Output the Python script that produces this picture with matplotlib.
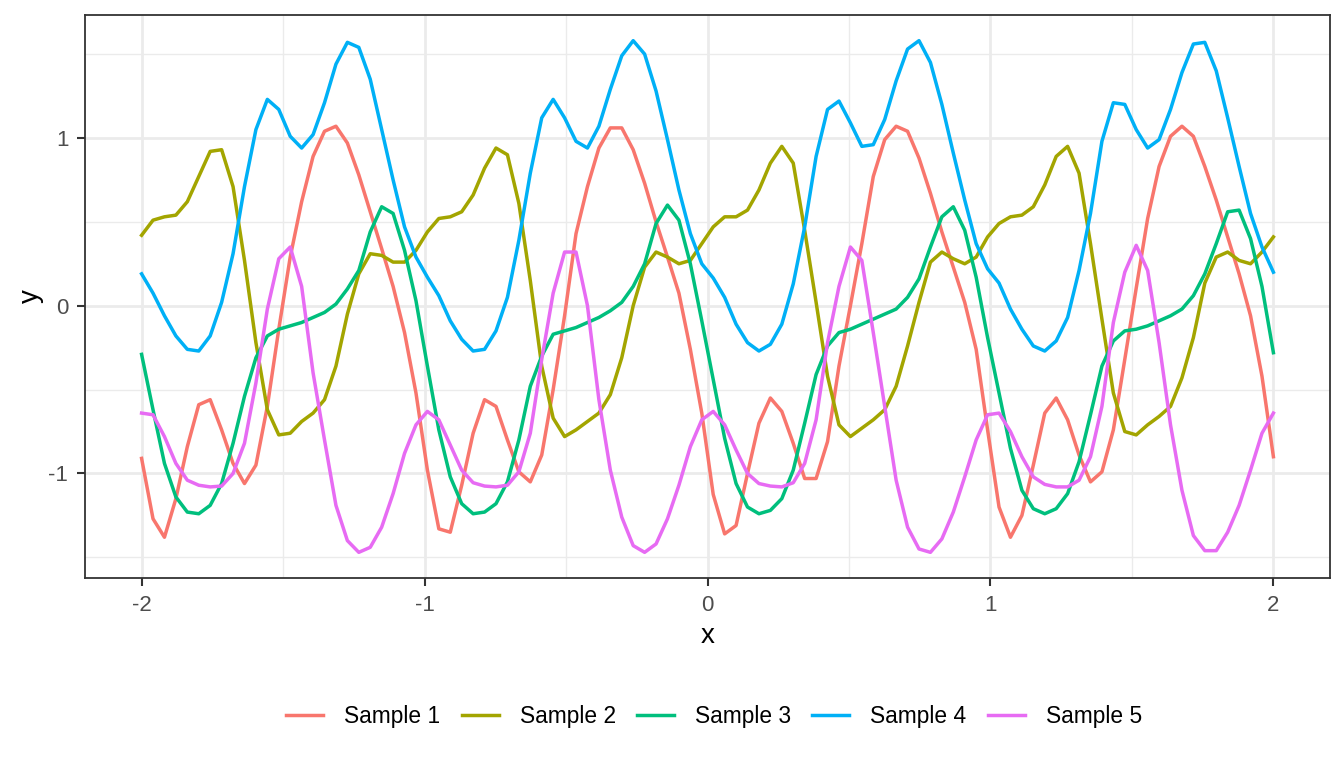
import numpy as np
import matplotlib
matplotlib.use("Agg")
import matplotlib.pyplot as plt

plt.rcParams["font.family"] = ["Liberation Sans", "DejaVu Sans"]
plt.rcParams["axes.unicode_minus"] = False

# 100 punkte zwischen -2 und 2
x = np.linspace(-2, 2, 100)

sample_1 = [
    -0.91, -1.27, -1.38, -1.15, -0.84, -0.59, -0.56, -0.74, -0.94, -1.06, -0.95, -0.60, -0.14, 0.29, 0.62, 0.89, 1.04, 1.07, 0.97, 0.78, 0.56, 0.34, 0.115, -0.16, -0.52,
    -0.98, -1.33, -1.35, -1.07, -0.76, -0.56, -0.60, -0.80, -0.99, -1.05, -0.89, -0.50, -0.06, 0.43, 0.71, 0.94, 1.06, 1.06, 0.93, 0.73, 0.50, 0.29, 0.075, -0.26, -0.64,
    -1.125, -1.36, -1.31, -1.00, -0.70, -0.55, -0.63, -0.82, -1.03, -1.03, -0.81, -0.36, 0.00, 0.37, 0.77, 0.99, 1.07, 1.04, 0.88, 0.67, 0.44, 0.23, 0.02, -0.26, -0.74,
    -1.20, -1.38, -1.25, -0.95, -0.64, -0.55, -0.68, -0.89, -1.05, -0.99, -0.74, -0.32, 0.105, 0.52, 0.83, 1.01, 1.07, 1.01, 0.83, 0.63, 0.41, 0.19, -0.06, -0.42, -0.90,
]
sample_2 = [
    0.42, 0.51, 0.53, 0.54, 0.62, 0.77, 0.92, 0.93, 0.71, 0.27, -0.22, -0.62, -0.77, -0.76, -0.69, -0.64, -0.56, -0.36, -0.05, 0.19, 0.31, 0.30, 0.26, 0.26, 0.33,
    0.44, 0.52, 0.53, 0.56, 0.66, 0.82, 0.94, 0.90, 0.61, 0.15, -0.36, -0.67, -0.78, -0.74, -0.69, -0.64, -0.53, -0.31, 0.00, 0.23, 0.32, 0.29, 0.25, 0.27, 0.37,
    0.47, 0.53, 0.53, 0.57, 0.69, 0.85, 0.95, 0.85, 0.45, 0.02, -0.42, -0.71, -0.78, -0.73, -0.68, -0.62, -0.48, -0.24, 0.02, 0.26, 0.32, 0.28, 0.25, 0.29, 0.41,
    0.49, 0.53, 0.54, 0.59, 0.72, 0.89, 0.95, 0.79, 0.37, -0.08, -0.52, -0.75, -0.77, -0.71, -0.66, -0.60, -0.43, -0.19, 0.135, 0.29, 0.32, 0.27, 0.25, 0.32, 0.41,
]
sample_3 = [
    -0.29, -0.62, -0.94, -1.14, -1.23, -1.24, -1.19, -1.06, -0.82, -0.54, -0.31, -0.18, -0.14, -0.12, -0.10, -0.07, -0.04, 0.01, 0.10, 0.21, 0.44, 0.59, 0.55, 0.33, 0.03,
    -0.36, -0.74, -1.02, -1.18, -1.24, -1.23, -1.18, -1.05, -0.80, -0.48, -0.30, -0.17, -0.15, -0.13, -0.10, -0.07, -0.03, 0.02, 0.115, 0.25, 0.49, 0.60, 0.51, 0.25, -0.09,
    -0.44, -0.79, -1.06, -1.20, -1.24, -1.22, -1.15, -0.98, -0.70, -0.41, -0.24, -0.16, -0.14, -0.11, -0.08, -0.05, -0.02, 0.05, 0.16, 0.35, 0.53, 0.59, 0.45, 0.17, -0.19,
    -0.52, -0.85, -1.10, -1.21, -1.24, -1.21, -1.12, -0.93, -0.65, -0.36, -0.21, -0.15, -0.14, -0.12, -0.09, -0.06, -0.02, 0.06, 0.19, 0.37, 0.56, 0.57, 0.40, 0.115, -0.28,
]
sample_4 = [
    0.19, 0.075, -0.06, -0.18, -0.26, -0.27, -0.18, 0.02, 0.31, 0.71, 1.05, 1.23, 1.17, 1.01, 0.94, 1.02, 1.21, 1.44, 1.57, 1.54, 1.35, 1.05, 0.75, 0.47, 0.29,
    0.17, 0.06, -0.09, -0.20, -0.27, -0.26, -0.15, 0.05, 0.39, 0.79, 1.12, 1.23, 1.12, 0.98, 0.94, 1.07, 1.29, 1.49, 1.58, 1.50, 1.28, 0.99, 0.69, 0.43, 0.25,
    0.165, 0.05, -0.11, -0.22, -0.27, -0.23, -0.11, 0.13, 0.47, 0.89, 1.17, 1.22, 1.09, 0.95, 0.96, 1.11, 1.34, 1.53, 1.58, 1.45, 1.20, 0.91, 0.63, 0.37, 0.22,
    0.135, -0.02, -0.14, -0.24, -0.27, -0.21, -0.07, 0.21, 0.55, 0.98, 1.21, 1.20, 1.05, 0.94, 0.99, 1.17, 1.39, 1.56, 1.57, 1.40, 1.12, 0.83, 0.55, 0.35, 0.20,
]
sample_5 = [
    -0.64, -0.65, -0.78, -0.94, -1.04, -1.07, -1.08, -1.075, -1.00, -0.82, -0.46, -0.02, 0.28, 0.35, 0.115, -0.40, -0.80, -1.19, -1.40, -1.47, -1.44, -1.32, -1.12, -0.88, -0.71,
    -0.63, -0.68, -0.83, -0.98, -1.055, -1.075, -1.08, -1.07, -0.99, -0.76, -0.32, 0.075, 0.32, 0.32, 0.00, -0.56, -0.98, -1.26, -1.43, -1.47, -1.42, -1.27, -1.07, -0.84, -0.68,
    -0.63, -0.71, -0.86, -1.00, -1.06, -1.075, -1.08, -1.055, -0.94, -0.68, -0.22, 0.115, 0.35, 0.27, -0.16, -0.60, -1.04, -1.32, -1.45, -1.47, -1.39, -1.23, -1.02, -0.80, -0.65,
    -0.64, -0.75, -0.90, -1.02, -1.065, -1.08, -1.08, -1.04, -0.90, -0.60, -0.10, 0.20, 0.36, 0.21, -0.22, -0.71, -1.10, -1.37, -1.46, -1.46, -1.35, -1.19, -0.98, -0.76, -0.64,
]

serien = [sample_1, sample_2, sample_3, sample_4, sample_5]
namen = ["Sample 1", "Sample 2", "Sample 3", "Sample 4", "Sample 5"]
farben = ["#F8766D", "#A3A500", "#00BF7D", "#00B0F6", "#E76BF3"]

fig = plt.figure(figsize=(13.44, 7.68), dpi=100)
ax = fig.add_axes([85 / 1344, 1 - 578 / 768, (1330 - 85) / 1344, (578 - 15) / 768])

for werte, name, farbe in zip(serien, namen, farben):
    ax.plot(x, werte, color=farbe, linewidth=2.5, label=name, solid_joinstyle="round")

ax.set_xlim(-2.2, 2.2)
ax.set_ylim(-1.623, 1.733)

ax.set_xticks([-2, -1, 0, 1, 2])
ax.set_yticks([-1, 0, 1])
ax.set_xticks([-1.5, -0.5, 0.5, 1.5], minor=True)
ax.set_yticks([-1.5, -0.5, 0.5, 1.5], minor=True)
ax.grid(which="major", color="#EBEBEB", linewidth=2.0)
ax.grid(which="minor", color="#EBEBEB", linewidth=1.0)
ax.set_axisbelow(True)

for s in ax.spines.values():
    s.set_color("#333333")
    s.set_linewidth(1.3)

ax.tick_params(which="major", length=5.5, width=1.5, color="#333333",
               labelsize=16, labelcolor="#4D4D4D", pad=6.5)
ax.tick_params(which="minor", length=0)

ax.set_xlabel("x", fontsize=20, labelpad=5.5)
ax.set_ylabel("y", fontsize=20, labelpad=3)

fig.legend(loc="center", bbox_to_anchor=(714 / 1344, 1 - 716 / 768), ncol=5,
           frameon=False, fontsize=16.4, handlelength=1.63, handletextpad=0.92,
           columnspacing=0.93)

fig.savefig("out.png", dpi=100)
